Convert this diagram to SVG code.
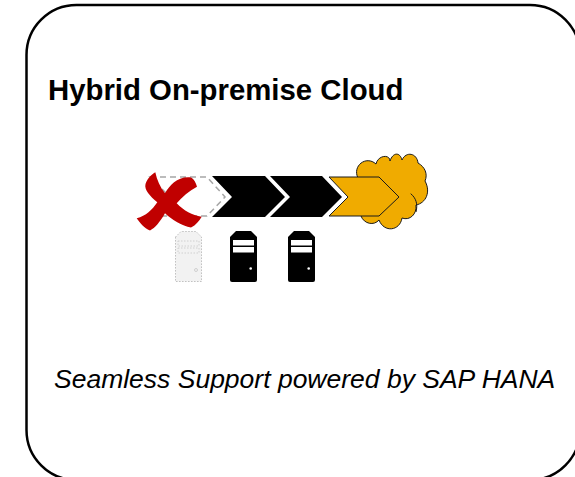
<svg xmlns="http://www.w3.org/2000/svg" width="575" height="477" viewBox="0 0 575 477">
<style>
text{font-family:"Liberation Sans",Arial,sans-serif;fill:#000}
.title{font-size:29.35px;font-weight:bold}
.sub{font-size:26.5px;font-style:italic}
.bar{fill:#fff}
.chev{fill:#000}
.gold{fill:#f0ab00;stroke:#1a1a1a;stroke-width:1}
.dot{stroke-dasharray:1.5 1.5}
</style>
<defs>
<g id="server">
<path d="M230 237L236 231H251L257 237V280Q257 282 255 282H232Q230 282 230 280Z"/>
<rect class="bar" x="233" y="240" width="21" height="5.500"/>
<rect class="bar" x="233" y="247" width="21" height="5.500"/>
<circle class="bar" cx="250.700" cy="268.500" r="1.300"/>
</g>
</defs>
<g id="frame"><rect x="26.500" y="5" width="553.500" height="475" rx="50" ry="50" fill="#fff" stroke="#000" stroke-width="2.500"/></g>
<g id="title"><text class="title" x="48" y="99.500">Hybrid On-premise Cloud</text></g>
<g id="cloud"><path class="gold" d="M358 178C352 166 366 155 376 164C378 155 390 154 390 161C393 152 400 152 402 160C406 151 417 153 418 163C425 167 428 174 425 181C431 192 426 203 416 205C417 214 410 221 402 218C400 231 384 233 379 220C374 226 364 224 361 216Z"/><path d="M410.700 193.700C416 198 418 204 416 212" fill="none" stroke="#1a1a1a"/></g>
<g id="ghost-chevron"><path d="M150 177H207L225 197L207 216H150L170 197Z" fill="#fff" stroke="#a6a6a6" stroke-width="1.500" stroke-dasharray="6 4"/></g>
<g id="x-mark"><path d="M155.300 172.300C157 180 160 187 165 193.300C170 185 178 176 191 177.500C194 179 196 183 197 186.700C189 191 182 197 176.700 203.300C184 211 192 215 201.700 216.700C199 221 196 225 191 227.500C182 226 172 220 165 213.300C160 222 155 228 150 230.500C144 228 140 223 136.700 218.300C146 216 152 210 157.300 202.300C150 196 144 190 145.500 184C147 179 151 175 155.300 172.300Z" fill="#c00000"/></g>
<g id="chevron-1"><path class="chev" d="M212 176H265L285 197L265 217H212L232 197Z"/></g>
<g id="chevron-2"><path class="chev" d="M270 176H322L342 197L322 217H270L290 197Z"/></g>
<g id="chevron-3"><path class="gold" d="M329 177H379L399 197L379 216H329L348 197Z"/></g>
<g id="server-ghost"><path class="dot" d="M175.500 237L181 231.500H196L201.500 237V281.500H175.500Z" fill="#f2f2f2" stroke="#bfbfbf"/>
<rect class="dot" x="178" y="241" width="21" height="5" fill="#f2f2f2" stroke="#d0d0d0"/>
<rect class="dot" x="178" y="248" width="21" height="5" fill="#f2f2f2" stroke="#d0d0d0"/>
<circle cx="196" cy="270" r="1.500" fill="none" stroke="#d0d0d0"/></g>
<g id="server-1"><use href="#server"/></g>
<g id="server-2"><use href="#server" x="58"/></g>
<g id="caption"><text class="sub" x="54" y="387.500">Seamless Support powered by SAP HANA</text></g>
<g id="connectors"/>
</svg>
